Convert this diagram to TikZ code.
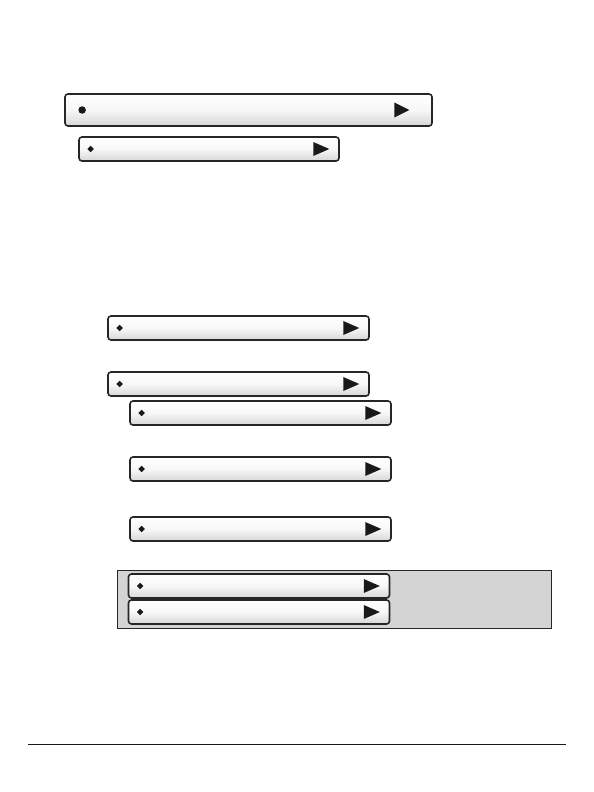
\documentclass[tikz,border=0pt]{standalone}
\usetikzlibrary{positioning,shapes.geometric}

\tikzset{
  menubar/.style={draw=black!85, line width=1.6bp, rounded corners=3bp,
    top color=white, bottom color=black!16, middle color=black!3,
    minimum width=261bp, minimum height=24bp, inner sep=0pt},
  diamondmark/.style={diamond, fill=black!90, inner sep=0pt, minimum size=6.5bp},
  dotmark/.style={circle, fill=black!90, inner sep=0pt, minimum size=7.5bp},
  playmark/.style={isosceles triangle, isosceles triangle stretches, fill=black!90,
    inner sep=0pt, minimum width=14bp, minimum height=16bp},
}

\begin{document}
\begin{tikzpicture}[x=1bp, y=-1bp]
\useasboundingbox (0,0) rectangle (594,792);

% top pair
\node [menubar, minimum width=367bp, minimum height=32bp] (b1) at (248.5,110) {};
\node [dotmark, right=14bp of b1.west] (d1) {};
\node [playmark, minimum width=15bp, minimum height=15bp, left=23bp of b1.east] (p1) {};
\node [menubar, minimum width=260bp] (b2) at (209,149) {};
\node [diamondmark, right=9bp of b2.west] (d2) {};
\node [playmark, left=10bp of b2.east] (p2) {};

% middle bars
\node [menubar] (b3) at (238.5,328) {};
\node [diamondmark, right=9bp of b3.west] (d3) {};
\node [playmark, left=10bp of b3.east] (p3) {};
\node [menubar] (b4) at (238.5,384) {};
\node [diamondmark, right=9bp of b4.west] (d4) {};
\node [playmark, left=10bp of b4.east] (p4) {};
\node [menubar] (b5) at (260.5,413) {};
\node [diamondmark, right=9bp of b5.west] (d5) {};
\node [playmark, left=10bp of b5.east] (p5) {};
\node [menubar] (b6) at (260.5,469) {};
\node [diamondmark, right=9bp of b6.west] (d6) {};
\node [playmark, left=10bp of b6.east] (p6) {};
\node [menubar] (b7) at (260.5,529) {};
\node [diamondmark, right=9bp of b7.west] (d7) {};
\node [playmark, left=10bp of b7.east] (p7) {};

% grey panel
\draw [black!85, line width=0.9bp, fill=black!17] (117,570) rectangle (551,628);
\node [menubar] (b8) at (259,586) {};
\node [diamondmark, right=9bp of b8.west] (d8) {};
\node [playmark, left=10bp of b8.east] (p8) {};
\node [menubar] (b9) at (259,612) {};
\node [diamondmark, right=9bp of b9.west] (d9) {};
\node [playmark, left=10bp of b9.east] (p9) {};

% footer rule
\draw [black!90, line width=1bp] (28,744) -- (566,744);

\end{tikzpicture}
\end{document}
